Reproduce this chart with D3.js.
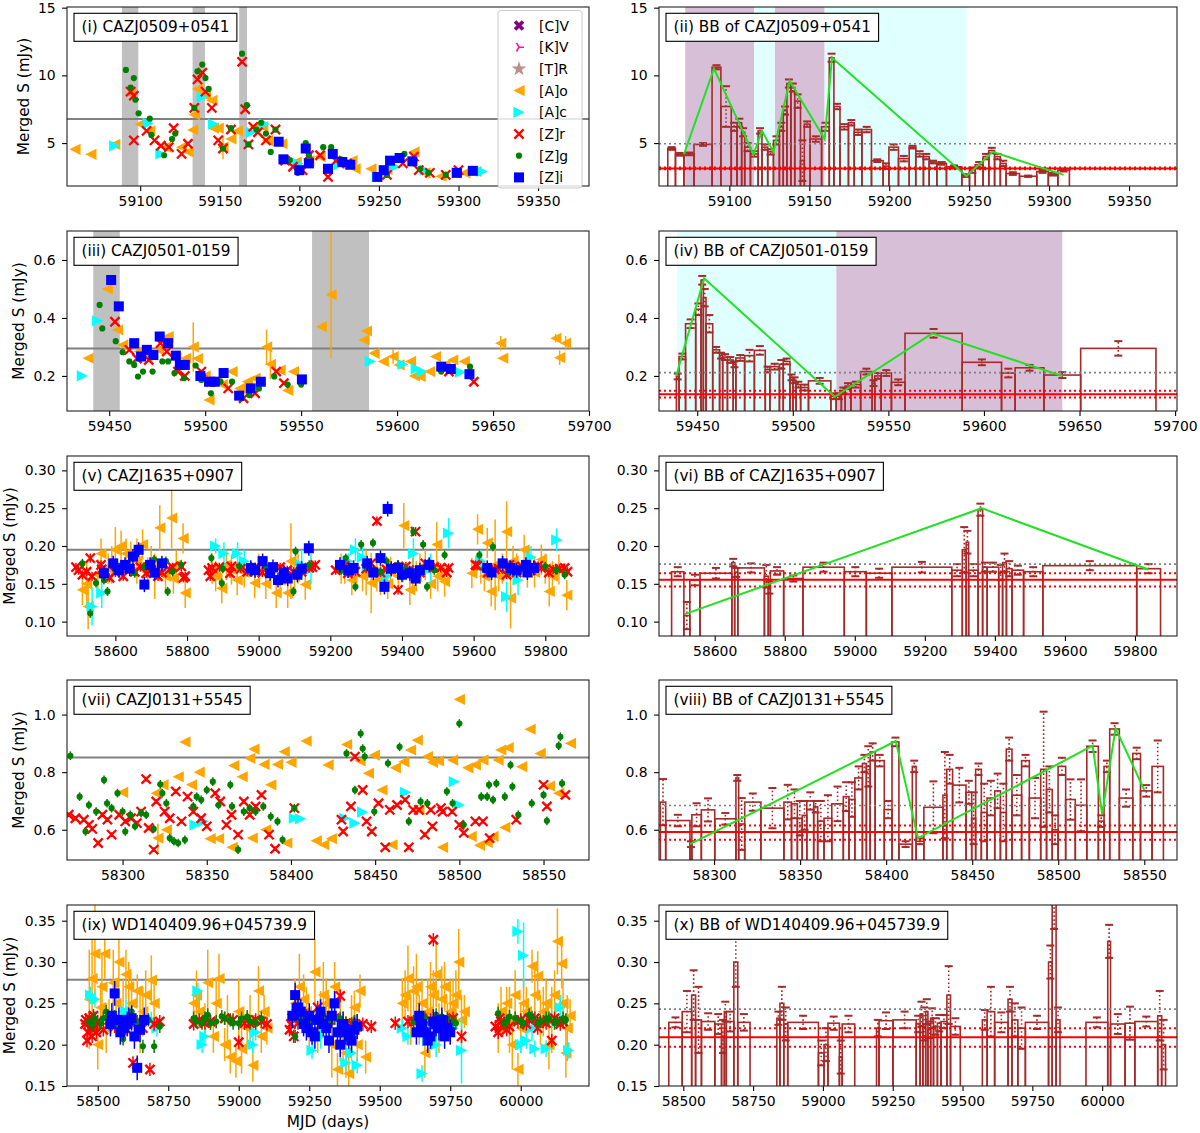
<!DOCTYPE html>
<html><head><meta charset="utf-8">
<script src="https://cdn.jsdelivr.net/npm/d3@7"></script>
<style>body{margin:0;background:#fff}</style>
</head><body><svg id="c" width="1200" height="1133" xmlns="http://www.w3.org/2000/svg"></svg>
<script>
// ---------------- axis limits & ticks ----------------
const p1_xDom=[59054,59382], p1_yDom=[1.83,15.05], p1_xTicks=[59100,59150,59200,59250,59300,59350], p1_yTicks=[5,10,15];
const p2_xDom=[59056,59380], p2_yDom=[1.83,15.05];
const p3_xDom=[59428,59700], p3_yDom=[0.079,0.70], p3_xTicks=[59450,59500,59550,59600,59650,59700], p3_yTicks=[0.2,0.4,0.6];
const p4_xDom=[59430,59701], p4_yDom=[0.079,0.70];
const p5_xDom=[58465,59922], p5_yDom=[0.081,0.319], p5_xTicks=[58600,58800,59000,59200,59400,59600,59800], p5_yTicks=[0.10,0.15,0.20,0.25,0.30];
const p6_xDom=[58441,59920], p6_yDom=[0.081,0.319];
const p7_xDom=[58267,58577], p7_yDom=[0.495,1.12], p7_xTicks=[58300,58350,58400,58450,58500,58550], p7_yTicks=[0.6,0.8,1.0];
const p8_xDom=[58268,58569], p8_yDom=[0.495,1.12];
const p9_xDom=[58391,60242], p9_yDom=[0.15,0.369], p9_xTicks=[58500,58750,59000,59250,59500,59750,60000], p9_yTicks=[0.15,0.20,0.25,0.30,0.35];
const p10_xDom=[58413,60268], p10_yDom=[0.15,0.369];

const legendLabels=["[C]V","[K]V","[T]R","[A]o","[A]c","[Z]r","[Z]g","[Z]i"];

// ---------------- (i) CAZJ0509+0541 ----------------
const p1_mean=6.77;
const p1_spans=[[59088.5,59098.8],[59132.9,59140.7],[59162.2,59167.1]];
const p1_KV=[[59145,6.4]];
const p1_Ao=[[59059,4.54],[59069,4.17],[59084,4.9],[59094,8.64],[59100,6.4],[59106,5.9],[59116,4.7],[59126,4.7],[59130,4.35],[59133,5.97],[59134,7.1],[59136,9.0],[59141,8.5],[59145,8.15],[59146,6.1],[59149,6.1],[59152,4.7,0.9],[59157,5.3],[59161,5.9],[59172,6.2],[59177,6.2],[59180,5.2],[59189,4.95],[59198,3.6],[59206,3.7],[59213,4.0],[59225,3.5],[59233,3.7],[59235,3.1],[59245,3.1],[59255,3.05],[59272,4.35],[59279,2.8],[59289,2.55],[59304,2.8],[59311,2.9]];
const p1_Ac=[[59084,4.8],[59105,6.45],[59113,4.2],[59139,8.4],[59146,6.4],[59170,5.8],[59178,6.4],[59199,3.5],[59225,3.4],[59249,2.5],[59260,3.25],[59279,3.0],[59299,2.8],[59315,2.9]];
const p1_Zr=[[59094,8.8],[59096,8.5],[59096,5.2],[59104,5.9],[59109,5.2],[59113,4.8],[59118,4.7],[59121,6.1],[59126,4.2],[59130,4.95],[59134,7.6],[59136,9.7],[59139,10.2],[59141,8.8],[59145,7.6],[59149,5.2],[59152,4.6],[59157,6.0],[59164,11.0],[59166,7.5],[59168,4.9],[59171,6.2],[59174,5.8],[59179,5.2],[59185,6.0],[59191,3.7],[59196,3.25],[59202,3.0],[59206,4.1],[59213,4.1],[59218,2.5],[59223,3.7],[59230,3.5],[59255,2.65],[59265,3.5],[59272,4.0],[59275,3.0],[59282,2.8],[59292,2.65],[59300,3.0]];
const p1_Zg=[[59091,10.4],[59094,9.1],[59096,9.8],[59097,8.2],[59099,7.2],[59106,6.8],[59107,5.6],[59115,4.1],[59120,5.3],[59122,5.7],[59134,7.6],[59136,10.3],[59139,10.8],[59141,9.8],[59143,9.0],[59152,4.6],[59157,6.1],[59164,11.6],[59167,7.8],[59168,4.9],[59173,6.0],[59176,6.5],[59179,5.7],[59182,4.35],[59185,6.0],[59194,3.75],[59199,2.8],[59204,5.0],[59206,4.1],[59215,4.7],[59220,4.7],[59226,3.8],[59255,2.65],[59266,4.2],[59276,3.1],[59281,2.8],[59292,2.65],[59298,2.8]];
const p1_Zi=[[59187,5.1],[59190,3.8],[59200,3.0],[59204,4.6],[59206,3.5],[59218,3.1],[59221,4.2],[59227,3.6],[59232,3.4],[59249,2.5],[59253,3.0],[59257,3.7],[59263,3.9],[59271,3.65],[59299,2.8],[59309,2.95]];

// ---------------- (ii) BB of CAZJ0509+0541 ----------------
const p2_levels={gray:4.95, red:3.13, redLo:3.07, redHi:3.19};
const p2_spansPurple=[[59072.4,59115.6],[59128.4,59159.6]];
const p2_spansCyan=[[59115.6,59128.4],[59159.6,59248.3]];
const p2_blocks=[[59061.5,59066.3,4.6,0.1],[59066.3,59071.6,4.17,0.1],[59071.6,59077.9,4.2,0.1],[59077.9,59089.2,4.9,0.1],[59089.2,59094.7,10.6,0.15],[59094.7,59101.2,7.7,1.5],[59101.2,59104.8,6.2,0.3],[59104.8,59107.7,6.5,0.3],[59107.7,59109.6,5.8,0.3],[59109.6,59113.2,4.7,0.3],[59113.2,59118,4.2,0.2],[59118,59120.4,5.9,0.2],[59120.4,59124,4.7,0.2],[59124,59127.6,4.35,0.2],[59127.6,59131.3,5.2,0.3],[59131.3,59133.7,6.2,0.3],[59133.7,59136,7.4,0.3],[59136,59138.5,9.4,0.3],[59138.5,59140.9,9.1,0.3],[59140.9,59144.5,8.1,0.5],[59144.5,59146.9,3.7,1.5],[59146.9,59150.5,6.4,0.2],[59150.5,59157.7,5.3,0.2],[59157.7,59162.5,6.2,0.3],[59162.5,59165.4,11.3,0.3],[59165.4,59169.2,7.7,0.2],[59169.2,59174.5,6.2,0.2],[59174.5,59178.1,6.5,0.2],[59178.1,59182.9,5.8,0.2],[59182.9,59188.9,6.0,0.2],[59188.9,59196.2,3.7,0.1],[59196.2,59199.8,3.3,0.2],[59199.8,59205.8,4.7,0.2],[59205.8,59212.5,3.85,0.2],[59212.5,59216.6,4.7,0.1],[59216.6,59221.4,4.2,0.2],[59221.4,59225,4.0,0.2],[59225,59229.8,3.6,0.1],[59229.8,59235.8,3.5,0.1],[59235.8,59245.4,3.25,0.1],[59245.4,59250.2,2.6,0.1],[59250.2,59253.8,3.0,0.2],[59253.8,59258.7,3.4,0.2],[59258.7,59262.3,4.0,0.2],[59262.3,59265.9,4.45,0.2],[59265.9,59269.5,4.0,0.2],[59269.5,59273.1,3.5,0.2],[59273.1,59281.5,2.75,0.1],[59281.5,59292.3,2.55,0.05],[59292.3,59299.5,2.9,0.1],[59299.5,59305.5,2.7,0.1],[59305.5,59312.7,3.0,0.1]];
const p2_green=[[59071.6,4.17],[59090.4,10.5],[59115.1,4.17],[59120.4,5.9],[59127.6,4.35],[59137.7,9.6],[59159.6,5.3],[59164.2,11.3],[59248.3,2.55],[59264.7,4.35],[59309.1,2.65]];

// ---------------- (iii) CAZJ0501-0159 ----------------
const p3_mean=0.295;
const p3_spans=[[59441.7,59455.5],[59555.7,59585.4]];
const p3_Ao=[[59439,0.261],[59449,0.50],[59454.4,0.359],[59457,0.307],[59465.6,0.284],[59469.6,0.267],[59475.7,0.29],[59478.7,0.33],[59480.7,0.336],[59484.7,0.261],[59489.8,0.261],[59493.8,0.3,0.085],[59495.9,0.26],[59500,0.2],[59502,0.117],[59506,0.18],[59509,0.17],[59514,0.215],[59518,0.157],[59522,0.18],[59526,0.192],[59532,0.3,0.06],[59534,0.24,0.05],[59539,0.22],[59543,0.15],[59546,0.215],[59560.5,0.37],[59565.6,0.48,0.22],[59582.7,0.324],[59584,0.355],[59588,0.278],[59592.8,0.25],[59597.9,0.267,0.025],[59601,0.238],[59607,0.25],[59609,0.2],[59612,0.198],[59617,0.215],[59620,0.267],[59625,0.238],[59629,0.255],[59635,0.25],[59654,0.313,0.025],[59655,0.261],[59682.7,0.33,0.015],[59684.7,0.263,0.025],[59687.8,0.313,0.025]];
const p3_Ac=[[59436,0.2],[59444,0.39],[59586,0.25],[59603,0.24],[59610,0.224],[59613,0.215],[59633,0.213]];
const p3_Zr=[[59453,0.387],[59460.5,0.29],[59464.5,0.26],[59470.6,0.255],[59476.7,0.313],[59480,0.284],[59485.8,0.215],[59489.4,0.2],[59498,0.215],[59503,0.18],[59512,0.157],[59520,0.123],[59526,0.14],[59537,0.215],[59541,0.175],[59627,0.215],[59640,0.18]];
const p3_Zg=[[59445,0.445],[59446.4,0.364],[59453.4,0.32],[59457,0.282],[59460.5,0.25],[59463,0.238],[59465,0.198],[59467.6,0.215],[59472.6,0.215],[59477.7,0.25],[59480.7,0.25],[59484,0.21],[59489,0.192],[59495,0.236],[59498,0.186],[59503,0.14],[59508,0.18],[59514,0.18],[59519,0.123],[59523,0.134],[59528,0.157],[59536,0.198],[59543,0.17],[59550,0.17],[59623,0.215],[59638,0.232]];
const p3_Zi=[[59451,0.531],[59455,0.44],[59463,0.313],[59466.6,0.267],[59469.6,0.29],[59473,0.272],[59476.3,0.336],[59480.7,0.313],[59484.7,0.27],[59486.8,0.238],[59489.4,0.238],[59497.5,0.2],[59502,0.18],[59505,0.18],[59509.6,0.21],[59517.7,0.132],[59523.7,0.157],[59529,0.18],[59550.4,0.188],[59623,0.232],[59628,0.224],[59637.7,0.206]];

// ---------------- (iv) BB of CAZJ0501-0159 ----------------
const p4_levels={gray:0.2115, red:0.137, redLo:0.126, redHi:0.149};
const p4_spansCyan=[[59439.5,59522.7]];
const p4_spansPurple=[[59522.7,59641]];
const p4_blocks=[[59439.1,59440.5,0.198,0.01],[59440.5,59443.9,0.267,0.01],[59443.9,59449.2,0.38,0.015],[59449.2,59452,0.43,0.02],[59452,59453.2,0.53,0.015],[59453.2,59454.6,0.47,0.03],[59454.6,59458.1,0.38,0.03],[59458.1,59461.7,0.29,0.01],[59461.7,59463.3,0.27,0.01],[59463.3,59465.8,0.265,0.01],[59465.8,59468.8,0.255,0.01],[59468.8,59470.2,0.24,0.01],[59470.2,59474.8,0.262,0.01],[59474.8,59479.9,0.27,0.02],[59479.9,59485.6,0.288,0.015],[59485.6,59488,0.222,0.01],[59488,59493,0.232,0.01],[59493,59495,0.24,0.015],[59495,59498.5,0.25,0.01],[59498.5,59500.1,0.195,0.01],[59500.1,59501.7,0.185,0.01],[59501.7,59504.1,0.17,0.01],[59504.1,59508.2,0.16,0.01],[59508.2,59519.9,0.183,0.01],[59519.9,59522.7,0.13,0.01],[59522.7,59525.4,0.13,0.01],[59525.4,59527.4,0.15,0.01],[59527.4,59530.4,0.165,0.01],[59530.4,59535.5,0.17,0.01],[59535.5,59541.5,0.215,0.01],[59541.5,59542.9,0.175,0.01],[59542.9,59546.2,0.2,0.01],[59546.2,59551.6,0.21,0.01],[59551.6,59558.7,0.178,0.01],[59558.7,59588.6,0.347,0.015],[59588.6,59609.2,0.247,0.01],[59609.2,59616.3,0.21,0.015],[59616.3,59631.4,0.228,0.01],[59631.4,59650.6,0.203,0.01],[59650.6,59690,0.295,0.025]];
const p4_green=[[59439,0.2],[59453.6,0.537],[59522,0.128],[59573,0.347],[59641,0.2]];

// ---------------- (v) CAZJ1635+0907 ----------------
const p5_mean=0.195;
const p5_Ao=[[58508,0.142,0.02],[58524,0.12,0.03],[58551,0.162,0.02],[58600,0.195,0.03],[58616,0.2,0.02],[58643,0.186,0.02],[58676,0.202,0.02],[58724,0.224,0.03],[58757,0.237,0.04],[58762,0.157,0.02],[58789,0.21,0.02],[58795,0.138,0.02],[58897,0.144,0.02],[58924,0.169,0.02],[58989,0.151,0.02],[59049,0.138,0.02],[59081,0.138,0.02],[59130,0.149,0.02],[59314,0.151,0.04],[59368,0.166,0.02],[59405,0.227,0.03],[59422,0.142,0.02],[59465,0.175,0.02],[59497,0.202,0.03],[59519,0.153,0.02],[59595,0.164,0.02],[59611,0.222,0.02],[59638,0.204,0.02],[59649,0.14,0.02],[59692,0.219,0.04],[59703,0.131,0.04],[59741,0.195,0.02],[59789,0.182,0.02],[59811,0.14,0.02],[59838,0.169,0.02],[59860,0.135,0.02],[58580,0.17,0.02],[58700,0.18,0.02],[58740,0.16,0.02],[58870,0.17,0.02],[58960,0.165,0.02],[59020,0.15,0.02],[59100,0.16,0.02],[59240,0.165,0.015],[59290,0.16,0.02],[59340,0.155,0.02],[59440,0.16,0.02],[59480,0.15,0.02],[59620,0.17,0.02],[59670,0.16,0.02],[59720,0.17,0.02],[59770,0.165,0.02],[58520,0.15,0.03],[58560,0.19,0.02],[58590,0.175,0.025],[58630,0.19,0.02],[58660,0.18,0.03],[58690,0.165,0.02],[58710,0.16,0.03],[58770,0.175,0.02],[58880,0.16,0.02],[58910,0.175,0.02],[58940,0.155,0.02],[59000,0.17,0.02],[59060,0.155,0.02],[59090,0.18,0.05],[59110,0.17,0.02],[59230,0.17,0.02],[59260,0.155,0.02],[59300,0.165,0.03],[59330,0.16,0.02],[59360,0.15,0.02],[59390,0.16,0.02],[59430,0.165,0.02],[59450,0.17,0.02],[59500,0.16,0.02],[59630,0.16,0.02],[59660,0.175,0.06],[59680,0.17,0.02],[59710,0.18,0.02],[59750,0.165,0.02],[59800,0.17,0.02],[59820,0.16,0.02]];
const p5_Ac=[[58535,0.12,0.025],[58562,0.138,0.02],[58903,0.19,0.015],[58941,0.19,0.015],[59146,0.169,0.02],[59270,0.195,0.015],[59357,0.16,0.02],[59432,0.19,0.02],[59530,0.217,0.02],[59692,0.133,0.02],[59724,0.155,0.02],[59832,0.208,0.015],[58880,0.2,0.01],[58960,0.18,0.015],[59120,0.175,0.02],[59250,0.18,0.01],[59290,0.185,0.02],[59480,0.17,0.02],[59620,0.18,0.015],[59760,0.185,0.015]];
const p5_Zr=[[58497,0.168],[58508,0.162],[58530,0.184],[58535,0.16],[58562,0.169],[58584,0.158],[58622,0.16],[58654,0.166],[58686,0.164],[58719,0.16],[58751,0.169],[58784,0.173],[58795,0.16],[58865,0.16],[58870,0.171],[58924,0.173],[58968,0.166],[59032,0.169],[59097,0.166],[59141,0.171],[59158,0.175],[59227,0.171],[59249,0.164],[59314,0.177],[59330,0.233],[59357,0.169],[59389,0.142],[59411,0.173],[59438,0.219],[59465,0.177],[59508,0.171],[59530,0.171],[59605,0.175],[59659,0.169],[59692,0.162],[59735,0.173],[59789,0.171],[59822,0.169],[59854,0.171],[58490,0.172],[58520,0.166],[58560,0.175],[58600,0.165],[58640,0.17],[58670,0.172],[58700,0.168],[58730,0.165],[58760,0.172],[58790,0.158],[58860,0.168],[58890,0.172],[58920,0.164],[58950,0.17],[58990,0.172],[59010,0.165],[59060,0.172],[59080,0.168],[59120,0.166],[59150,0.172],[59215,0.168],[59240,0.174],[59270,0.166],[59300,0.17],[59340,0.165],[59370,0.172],[59420,0.168],[59450,0.165],[59490,0.172],[59525,0.165],[59610,0.174],[59640,0.165],[59670,0.17],[59700,0.175],[59720,0.165],[59760,0.168],[59780,0.174],[59810,0.165],[59840,0.17],[59862,0.166]];
const p5_Zg=[[58508,0.177],[58530,0.111],[58546,0.151],[58568,0.155],[58578,0.14],[58611,0.171],[58654,0.164],[58708,0.182],[58741,0.18],[58746,0.14],[58784,0.175],[58868,0.184],[58897,0.151],[58946,0.173],[59043,0.169],[59097,0.14],[59103,0.193],[59141,0.175],[59243,0.184],[59270,0.146],[59286,0.202],[59319,0.204],[59357,0.18],[59389,0.175],[59432,0.219],[59459,0.202],[59470,0.146],[59519,0.188],[59616,0.188],[59654,0.199],[59735,0.171],[59800,0.173],[59854,0.162],[58600,0.168],[58680,0.172],[58760,0.166],[58900,0.17],[58980,0.165],[59020,0.172],[59070,0.166],[59120,0.17],[59230,0.168],[59300,0.172],[59340,0.166],[59410,0.17],[59490,0.168],[59630,0.17],[59700,0.166],[59770,0.172],[59830,0.168]];
const p5_Zi=[[58568,0.164],[58594,0.177],[58627,0.175],[58649,0.186],[58665,0.195],[58681,0.149],[58697,0.175],[58730,0.177],[58978,0.171],[59011,0.18],[59032,0.164],[59054,0.155],[59081,0.157],[59108,0.162],[59140,0.197],[59227,0.175],[59265,0.171],[59303,0.177],[59340,0.184],[59351,0.146],[59360,0.249],[59389,0.171],[59422,0.164],[59438,0.157],[59476,0.175],[59638,0.171],[59681,0.177],[59703,0.171],[59746,0.175],[59768,0.171],[58610,0.168],[58640,0.17],[58710,0.165],[58990,0.168],[59040,0.172],[59070,0.165],[59120,0.17],[59250,0.168],[59320,0.165],[59370,0.17],[59400,0.162],[59450,0.168],[59650,0.165],[59720,0.168],[59750,0.165]];

// ---------------- (vi) BB of CAZJ1635+0907 ----------------
const p6_levels={gray:0.176, red:0.1553, redLo:0.1465, redHi:0.164};
const p6_blocks=[[58477,58512,0.166,0.006],[58512,58529,0.108,0.018],[58529,58558,0.155,0.007],[58558,58649,0.164,0.007],[58649,58657,0.178,0.005],[58657,58666,0.165,0.006],[58666,58742,0.171,0.006],[58742,58753,0.16,0.015],[58753,58759,0.145,0.008],[58759,58797,0.167,0.005],[58797,58852,0.157,0.004],[58852,58970,0.172,0.006],[58970,59033,0.166,0.006],[59033,59106,0.164,0.006],[59106,59277,0.172,0.007],[59277,59307,0.168,0.008],[59307,59318,0.195,0.03],[59318,59325,0.205,0.015],[59325,59352,0.168,0.008],[59352,59365,0.248,0.008],[59365,59378,0.172,0.006],[59378,59411,0.172,0.006],[59411,59422,0.165,0.01],[59422,59433,0.178,0.012],[59433,59449,0.17,0.01],[59449,59482,0.168,0.006],[59482,59537,0.166,0.006],[59537,59805,0.174,0.006],[59805,59873,0.17,0.006]];
const p6_green=[[58515,0.110],[59362,0.250],[59838,0.169]];

// ---------------- (vii) CAZJ0131+5545 ----------------
const p7_mean=0.851;
const p7_Ao=[[58300,0.73],[58320,0.727],[58321,0.571,0.05],[58326,0.6],[58324,0.756],[58333,0.784],[58337,0.905],[58341,0.756],[58345.5,0.8],[58352,0.569],[58357,0.569],[58365,0.539],[58366,0.823],[58371,0.784],[58375.5,0.848],[58378,0.88],[58377,0.571],[58384,0.827],[58385,0.6],[58388,0.756],[58392,0.827],[58396,0.871],[58397.5,0.554],[58400,0.834],[58409,0.908],[58415,0.562],[58419.5,0.548],[58422,0.825],[58424,0.569],[58433,0.896],[58441,0.839],[58446,0.796],[58449.5,0.859],[58454,0.738],[58460,0.548],[58462,0.815],[58467,0.836],[58471,0.877],[58475,0.911],[58476,0.669],[58481,0.854],[58484,0.834],[58487.6,0.839],[58490,0.539],[58496,0.842],[58500,1.053],[58505,0.815],[58507,0.577],[58509.5,0.825],[58512,0.546],[58514,0.842],[58516.5,0.556],[58520,0.577],[58523,0.842],[58524.6,0.877],[58527,0.608],[58529,0.885],[58537,0.819],[58542,0.949],[58548,0.865],[58553.5,0.752],[58559,0.727],[58566,0.9]];
const p7_Ac=[[58343,0.617],[58348,0.629],[58402,0.64],[58405.6,0.638],[58432,0.64],[58438,0.623],[58442.6,0.661],[58468,0.73],[58497,0.767],[58500,0.686]];
const p7_Zr=[[58268,0.652],[58272,0.64],[58277,0.635],[58280,0.617],[58282,0.603],[58285.5,0.554],[58288,0.652],[58291,0.635],[58293.5,0.583],[58298,0.652],[58301.6,0.629],[58305,0.64],[58308.5,0.623],[58311,0.663],[58314,0.776],[58315.5,0.606],[58318.5,0.531],[58320,0.698],[58325,0.663],[58328,0.64],[58331.6,0.733],[58335,0.629],[58338.6,0.715],[58342,0.663],[58346.7,0.64],[58350,0.612],[58355,0.727],[58358,0.698],[58361.7,0.617],[58364.7,0.652],[58368.6,0.583],[58372,0.698],[58375.5,0.652],[58379,0.681],[58382.5,0.721],[58387,0.583],[58390.6,0.534],[58402,0.675],[58430,0.635],[58431,0.594],[58435.6,0.681],[58438,0.854],[58442.6,0.738],[58444.9,0.629],[58448,0.594],[58452,0.692],[58456,0.539],[58458.7,0.669],[58463,0.686],[58467.8,0.704],[58470,0.539],[58472.6,0.669],[58476,0.669],[58479.5,0.583],[58483,0.669],[58484,0.612],[58489,0.675],[58490,0.663],[58495.7,0.663],[58500,0.617],[58502.6,0.589],[58509.5,0.629],[58514,0.629],[58518,0.571],[58533.8,0.635],[58550,0.756],[58552,0.681],[58563,0.721]];
const p7_Zg=[[58269,0.857],[58274.5,0.715],[58278,0.594],[58280,0.686],[58284.3,0.663],[58289,0.773],[58290.8,0.692],[58293.5,0.675],[58297,0.727],[58300,0.663],[58301.6,0.594],[58304.6,0.652],[58307.4,0.612],[58311,0.658],[58314,0.652],[58318.5,0.603],[58322.4,0.758],[58323.6,0.727],[58326,0.692],[58328,0.571],[58330.5,0.56],[58333,0.554],[58337,0.565],[58342,0.681],[58344,0.715],[58346.7,0.704],[58350,0.738],[58353.6,0.767],[58357,0.686],[58364,0.756],[58365,0.681],[58368.6,0.531],[58372,0.663],[58375.5,0.675],[58379,0.663],[58383.6,0.681],[58388,0.646],[58392,0.629],[58395,0.565],[58402,0.675],[58433,0.865],[58438,0.738],[58441.4,0.934],[58442.6,0.882],[58443.8,0.854],[58449.5,0.663],[58457.6,0.831],[58464.5,0.888],[58470,0.629],[58477,0.698],[58481,0.692],[58492.6,0.733],[58496,0.692],[58500,0.969],[58502.6,0.617],[58513,0.715],[58516.5,0.715],[58517.6,0.756],[58520,0.704],[58522,0.761],[58527,0.715],[58530.4,0.825],[58531.5,0.75],[58535,0.652],[58543,0.692],[58550,0.721],[58552,0.631],[58559,0.892],[58560,0.923],[58561,0.761]];

// ---------------- (viii) BB of CAZJ0131+5545 ----------------
const p8_levels={gray:0.684, red:0.592, redLo:0.565, redHi:0.615};
const p8_blocks=[[58268.8,58271.9,0.696,0.08],[58271.9,58286,0.632,0.02],[58286,58287.1,0.55,0.01],[58287.1,58292.6,0.652,0.04],[58292.6,58300.4,0.669,0.04],[58300.4,58312.7,0.638,0.02],[58312.7,58314.3,0.78,0.01],[58314.3,58317.8,0.62,0.09],[58317.8,58327.2,0.696,0.03],[58327.2,58340.6,0.675,0.07],[58340.6,58345,0.696,0.06],[58345,58348.4,0.69,0.05],[58348.4,58351.2,0.64,0.06],[58351.2,58353.9,0.65,0.05],[58353.9,58357.9,0.7,0.03],[58357.9,58360.2,0.68,0.02],[58360.2,58363.9,0.63,0.07],[58363.9,58368.4,0.64,0.08],[58368.4,58375.1,0.69,0.06],[58375.1,58378.4,0.715,0.05],[58378.4,58381.8,0.705,0.06],[58381.8,58386.2,0.78,0.04],[58386.2,58388.5,0.83,0.03],[58388.5,58390.7,0.82,0.07],[58390.7,58393.6,0.87,0.03],[58393.6,58398.9,0.84,0.02],[58398.9,58403.4,0.67,0.03],[58403.4,58407.4,0.905,0.015],[58407.4,58415.2,0.55,0.01],[58415.2,58417.4,0.82,0.02],[58417.4,58421.9,0.56,0.01],[58421.9,58433,0.678,0.09],[58433,58435.2,0.72,0.15],[58435.2,58438.6,0.81,0.05],[58438.6,58446.4,0.755,0.06],[58446.4,58449.7,0.73,0.04],[58449.7,58452,0.64,0.09],[58452,58455.3,0.81,0.02],[58455.3,58458.6,0.66,0.1],[58458.6,58463.1,0.71,0.06],[58463.1,58466.4,0.735,0.06],[58466.4,58469.8,0.66,0.1],[58469.8,58473.1,0.88,0.04],[58473.1,58478.7,0.72,0.07],[58478.7,58483.2,0.84,0.02],[58483.2,58489.8,0.71,0.07],[58489.8,58493.2,0.81,0.2],[58493.2,58496.5,0.74,0.08],[58496.5,58499.9,0.6,0.05],[58499.9,58504.3,0.82,0.03],[58504.3,58509.9,0.705,0.07],[58509.9,58516.6,0.685,0.09],[58516.6,58523.3,0.89,0.02],[58523.3,58526.6,0.63,0.02],[58526.6,58529.9,0.82,0.02],[58529.9,58535.5,0.95,0.02],[58535.5,58543.3,0.71,0.03],[58543.3,58547.8,0.865,0.02],[58547.8,58554.5,0.735,0.02],[58554.5,58561.1,0.82,0.09]];
const p8_green=[[58286,0.55],[58405.6,0.908],[58418.5,0.571],[58520,0.892],[58525.5,0.654],[58533.3,0.952],[58550,0.738]];

// ---------------- (ix) WD140409.96+045739.9 ----------------
const p9_mean=0.2785;
const p9_Ao=[[58470,0.255,0.06],[58490,0.31,0.06],[58500,0.2,0.03],[58510,0.245,0.03],[58525,0.31,0.03],[58540,0.235,0.02],[58555,0.275,0.04],[58575,0.3,0.03],[58600,0.285,0.03],[58620,0.25,0.03],[58640,0.265,0.02],[58660,0.24,0.03],[58690,0.278,0.03],[58700,0.25,0.03],[58840,0.25,0.02],[58860,0.24,0.02],[58890,0.275,0.04],[58910,0.21,0.02],[58930,0.28,0.03],[58950,0.2,0.02],[58970,0.185,0.02],[58990,0.18,0.02],[59010,0.195,0.03],[59030,0.22,0.02],[59050,0.175,0.02],[59070,0.265,0.03],[59090,0.24,0.02],[59100,0.22,0.02],[59200,0.25,0.03],[59230,0.255,0.03],[59250,0.215,0.02],[59270,0.288,0.04],[59290,0.235,0.03],[59310,0.25,0.03],[59330,0.2,0.04],[59350,0.17,0.02],[59370,0.21,0.03],[59390,0.165,0.02],[59410,0.245,0.02],[59430,0.265,0.02],[59450,0.185,0.02],[59580,0.25,0.03],[59600,0.28,0.04],[59620,0.265,0.03],[59640,0.23,0.03],[59660,0.19,0.03],[59680,0.27,0.03],[59700,0.285,0.04],[59720,0.255,0.04],[59740,0.23,0.02],[59760,0.25,0.03],[59780,0.3,0.04],[59800,0.24,0.02],[59920,0.22,0.03],[59950,0.25,0.02],[59970,0.2,0.03],[59990,0.17,0.02],[60010,0.25,0.03],[60040,0.295,0.02],[60060,0.283,0.03],[60080,0.24,0.03],[60100,0.2,0.03],[60130,0.325,0.04],[60145,0.298,0.03],[60160,0.19,0.03],[60175,0.235,0.02],[58480,0.28,0.05],[58515,0.27,0.04],[58530,0.22,0.03],[58565,0.25,0.03],[58590,0.24,0.04],[58610,0.27,0.03],[58650,0.23,0.04],[58670,0.26,0.03],[58850,0.26,0.03],[58880,0.23,0.02],[58920,0.25,0.03],[58960,0.23,0.03],[59000,0.24,0.04],[59040,0.23,0.03],[59080,0.21,0.02],[59215,0.27,0.04],[59240,0.24,0.03],[59280,0.22,0.03],[59300,0.26,0.04],[59320,0.23,0.03],[59340,0.27,0.03],[59360,0.22,0.04],[59380,0.19,0.03],[59400,0.23,0.03],[59420,0.2,0.02],[59590,0.26,0.03],[59610,0.23,0.03],[59630,0.27,0.04],[59650,0.25,0.03],[59670,0.24,0.04],[59690,0.26,0.03],[59710,0.22,0.03],[59730,0.27,0.03],[59750,0.24,0.04],[59770,0.26,0.03],[59790,0.23,0.03],[59930,0.24,0.03],[59960,0.23,0.04],[59980,0.26,0.03],[60000,0.22,0.03],[60020,0.24,0.03],[60050,0.26,0.04],[60070,0.23,0.03],[60090,0.25,0.03],[60110,0.23,0.04],[60120,0.26,0.03],[60150,0.25,0.03],[60165,0.22,0.04]];
const p9_Ac=[[58475,0.26,0.01],[58690,0.23,0.01],[58710,0.22,0.01],[58855,0.265,0.01],[58870,0.2,0.01],[59060,0.215,0.01],[59260,0.193,0.01],[59380,0.178,0.01],[59420,0.175,0.01],[59580,0.22,0.01],[59650,0.165,0.01],[59670,0.205,0.01],[59790,0.193,0.04],[59990,0.337,0.015],[60010,0.308,0.04],[60020,0.205,0.01],[60050,0.195,0.01],[60090,0.195,0.01],[60170,0.193,0.01],[58490,0.255,0.01],[58600,0.24,0.015],[58880,0.21,0.01],[59050,0.2,0.01],[59290,0.21,0.015],[59400,0.19,0.01],[59600,0.21,0.01],[59700,0.2,0.015],[59760,0.22,0.01],[60000,0.2,0.01],[60040,0.22,0.015],[60110,0.23,0.01],[60140,0.245,0.015]];
const p9_Zr=[[58455,0.225],[58465,0.215],[58470,0.232],[58480,0.21],[58490,0.222],[58500,0.228],[58520,0.218],[58540,0.23],[58560,0.222],[58580,0.225],[58600,0.219],[58625,0.178],[58640,0.228],[58660,0.22],[58685,0.17],[58700,0.225],[58840,0.225],[58860,0.23],[58900,0.228],[58950,0.232],[59000,0.203],[59020,0.226],[59060,0.23],[59100,0.225],[59180,0.218],[59190,0.232],[59210,0.226],[59240,0.235],[59280,0.245],[59300,0.228],[59340,0.232],[59360,0.259],[59380,0.226],[59410,0.22],[59440,0.225],[59470,0.222],[59555,0.226],[59600,0.228],[59650,0.232],[59690,0.327],[59720,0.225],[59760,0.232],[59790,0.21],[59910,0.222],[59925,0.232],[59940,0.225],[59960,0.222],[59990,0.228],[60020,0.225],[60050,0.232],[60080,0.228],[60110,0.205],[60140,0.225],[58458,0.23],[58462,0.205],[58475,0.22],[58485,0.235],[58495,0.215],[59185,0.225],[59195,0.21],[59205,0.238],[59920,0.215],[59930,0.228],[59950,0.218],[60000,0.23],[60030,0.232],[60060,0.22],[60090,0.226],[60120,0.232],[60150,0.228],[58720,0.228],[58880,0.226],[58980,0.23],[59040,0.226],[59080,0.228],[59320,0.23],[59400,0.225],[59620,0.228],[59680,0.23],[59740,0.226]];
const p9_Zg=[[58470,0.228],[58490,0.232],[58510,0.226],[58530,0.24],[58550,0.228],[58570,0.225],[58590,0.207],[58610,0.232],[58640,0.228],[58660,0.198],[58680,0.23],[58700,0.198],[58720,0.222],[58840,0.232],[58870,0.226],[58890,0.236],[58920,0.228],[58950,0.232],[58980,0.226],[59010,0.232],[59040,0.228],[59080,0.232],[59200,0.21],[59230,0.232],[59260,0.228],[59300,0.235],[59340,0.232],[59380,0.226],[59410,0.228],[59620,0.228],[59660,0.232],[59700,0.236],[59740,0.232],[59770,0.226],[59920,0.238],[59950,0.228],[59980,0.232],[60010,0.226],[60040,0.233],[60070,0.228],[60100,0.232],[60130,0.228],[60160,0.23],[58480,0.224],[58520,0.232],[58540,0.226],[58560,0.234],[58600,0.228],[58620,0.24],[58650,0.226],[58850,0.228],[58880,0.232],[58900,0.226],[58940,0.234],[58970,0.23],[59000,0.226],[59030,0.234],[59060,0.226],[59210,0.232],[59240,0.226],[59280,0.234],[59320,0.228],[59360,0.232],[59640,0.234],[59680,0.226],[59720,0.234],[59760,0.228],[59940,0.226],[59960,0.234],[60000,0.228],[60030,0.236],[60060,0.226],[60090,0.232],[60120,0.226],[60150,0.232]];
const p9_Zi=[[58545,0.225],[58560,0.262],[58575,0.23],[58590,0.22],[58605,0.225],[58620,0.232],[58630,0.21],[58640,0.172],[58650,0.218],[58665,0.23],[59190,0.235],[59200,0.26],[59220,0.24],[59240,0.22],[59260,0.215],[59280,0.23],[59300,0.225],[59320,0.205],[59340,0.25],[59360,0.2],[59380,0.215],[59400,0.205],[59420,0.222],[59630,0.215],[59650,0.225],[59670,0.205],[59690,0.228],[59710,0.22],[59730,0.21],[59750,0.215],[58550,0.235],[58580,0.215],[58610,0.23],[59210,0.245],[59230,0.225],[59250,0.235],[59270,0.21],[59290,0.24],[59310,0.22],[59330,0.235],[59350,0.215],[59370,0.225],[59390,0.21],[59410,0.218],[59640,0.235],[59660,0.215],[59680,0.21],[59700,0.225],[59720,0.23],[59740,0.22]];

// ---------------- (x) BB of WD140409.96+045739.9 ----------------
const p10_levels={gray:0.243, red:0.209, redLo:0.1976, redHi:0.22};
const p10_blocks=[[58448,58496,0.227,0.006],[58496,58530,0.24,0.025],[58530,58544,0.26,0.03],[58544,58565,0.23,0.04],[58565,58613,0.228,0.01],[58613,58637,0.225,0.012],[58637,58647,0.21,0.02],[58647,58654,0.24,0.012],[58654,58681,0.228,0.012],[58681,58695,0.3,0.03],[58695,58739,0.227,0.01],[58835,58846,0.232,0.008],[58846,58860,0.25,0.02],[58860,58874,0.225,0.02],[58874,58984,0.227,0.008],[58984,59004,0.19,0.015],[59004,59018,0.2,0.02],[59018,59059,0.226,0.008],[59059,59069,0.185,0.02],[59069,59114,0.225,0.01],[59192,59201,0.22,0.01],[59201,59251,0.229,0.01],[59251,59334,0.23,0.01],[59334,59348,0.225,0.01],[59348,59358,0.237,0.015],[59358,59368,0.225,0.02],[59368,59376,0.24,0.015],[59376,59386,0.218,0.01],[59386,59396,0.232,0.012],[59396,59410,0.222,0.01],[59410,59423,0.226,0.01],[59423,59444,0.228,0.008],[59444,59457,0.26,0.035],[59457,59492,0.222,0.01],[59571,59588,0.23,0.012],[59588,59615,0.24,0.03],[59615,59663,0.227,0.012],[59663,59677,0.255,0.015],[59677,59698,0.23,0.02],[59698,59725,0.22,0.025],[59725,59808,0.227,0.008],[59808,59821,0.3,0.02],[59821,59835,0.37,0.03],[59835,59849,0.23,0.015],[59942,60020,0.227,0.006],[60020,60030,0.325,0.02],[60030,60082,0.225,0.012],[60082,60117,0.226,0.02],[60117,60199,0.228,0.006],[60199,60213,0.235,0.03],[60213,60227,0.2,0.03]];

// ---------------- drawing ----------------
const FONT='"DejaVu Sans", sans-serif';
const COL=[[67,589],[659,1177]];
const ROWS=[[7,186],[231,411],[456,636],[680,860],[905,1086]];
const C={CV:'#800080',KV:'#ff1493',TR:'#bc8f8f',Ao:'#ffa500',Ac:'#00ffff',Zr:'#ff0000',Zg:'#008000',Zi:'#0000ff',brown:'#a52a2a',gray:'#808080',lime:'#22e022',purple:'#d8bfd8',cyan:'#e0ffff',silver:'#c0c0c0'};
const svg=d3.select('#c');
svg.append('rect').attr('width',1200).attr('height',1133).attr('fill','#fff');
const defs=svg.append('defs');
let cid=0;

function makePanel(col,row,xDom,yDom){
  const [x0,x1]=COL[col],[y0,y1]=ROWS[row];
  const x=d3.scaleLinear().domain(xDom).range([x0,x1]);
  const y=d3.scaleLinear().domain(yDom).range([y1,y0]);
  const id='clp'+(cid++);
  defs.append('clipPath').attr('id',id).append('rect').attr('x',x0).attr('y',y0).attr('width',x1-x0).attr('height',y1-y0);
  const g=svg.append('g');
  const plot=g.append('g').attr('clip-path',`url(#${id})`);
  return {g,plot,x,y,x0,x1,y0,y1,col};
}

function finishPanel(P,xTicks,yTicks,yFmt,title){
  const gx=P.g.append('g').attr('transform',`translate(0,${P.y1})`)
    .call(d3.axisBottom(P.x).tickValues(xTicks).tickFormat(d3.format('d')).tickSize(4.9).tickPadding(5.5));
  const gy=P.g.append('g').attr('transform',`translate(${P.x0},0)`)
    .call(d3.axisLeft(P.y).tickValues(yTicks).tickFormat(d3.format(yFmt)).tickSize(4.9).tickPadding(6.5));
  [gx,gy].forEach(a=>{
    a.select('.domain').remove();
    a.selectAll('text').attr('font-size',13.9).attr('font-family',FONT).attr('fill','#000');
    a.selectAll('line').attr('stroke','#000').attr('stroke-width',1.1);
  });
  P.g.append('rect').attr('x',P.x0).attr('y',P.y0).attr('width',P.x1-P.x0).attr('height',P.y1-P.y0)
    .attr('fill','none').attr('stroke','#222').attr('stroke-width',1.1);
  const tg=P.g.append('g');
  const t=tg.append('text').attr('x',P.x0+14.5).attr('y',P.y0+25.3).attr('font-size',15.3).attr('font-family',FONT).attr('fill','#000').text(title);
  const w=t.node().getComputedTextLength();
  tg.insert('rect','text').attr('x',P.x0+7).attr('y',P.y0+6.3).attr('width',w+15).attr('height',28)
    .attr('fill','#fff').attr('stroke','#000').attr('stroke-width',1.1);
  if(P.col===0){
    let minX=1e9;
    gy.selectAll('text').each(function(){const b=this.getBBox(); minX=Math.min(minX,b.x+P.x0);});
    const cx=minX-14;
    svg.append('text').attr('transform',`translate(${cx},${(P.y0+P.y1)/2}) rotate(-90)`).attr('dy','0.3em')
      .attr('text-anchor','middle').attr('font-size',15.3).attr('font-family',FONT).attr('fill','#000').text('Merged S (mJy)');
  }
}

function drawMarker(g,type,cx,cy,color){
  const s=5.6;
  if(type==='left') g.append('path').attr('d',`M${cx-s},${cy}L${cx+s},${cy-s}L${cx+s},${cy+s}Z`).attr('fill',color);
  else if(type==='right') g.append('path').attr('d',`M${cx+s},${cy}L${cx-s},${cy-s}L${cx-s},${cy+s}Z`).attr('fill',color);
  else if(type==='x') g.append('path').attr('d',`M${cx-4.6},${cy-4.6}L${cx+4.6},${cy+4.6}M${cx-4.6},${cy+4.6}L${cx+4.6},${cy-4.6}`).attr('stroke',color).attr('stroke-width',2.3).attr('fill','none');
  else if(type==='dot') g.append('circle').attr('cx',cx).attr('cy',cy).attr('r',3.1).attr('fill',color);
  else if(type==='square') g.append('rect').attr('x',cx-5).attr('y',cy-5).attr('width',10).attr('height',10).attr('fill',color);
  else if(type==='X') g.append('path').attr('d',`M${cx-4},${cy-4}L${cx+4},${cy+4}M${cx-4},${cy+4}L${cx+4},${cy-4}`).attr('stroke',color).attr('stroke-width',3.6).attr('fill','none');
  else if(type==='tri') g.append('path').attr('d',`M${cx},${cy}L${cx+5},${cy}M${cx},${cy}L${cx-2.5},${cy-4.3}M${cx},${cy}L${cx-2.5},${cy+4.3}`).attr('stroke',color).attr('stroke-width',1.6).attr('fill','none');
  else if(type==='star') g.append('path').attr('d',d3.symbol(d3.symbolStar,70)()).attr('transform',`translate(${cx},${cy})`).attr('fill',color);
}

function drawSeries(P,data,type,color,defErr){
  const g=P.plot.append('g');
  data.forEach(d=>{
    const e=d.length>2?d[2]:defErr;
    if(e>0) g.append('line').attr('x1',P.x(d[0])).attr('x2',P.x(d[0])).attr('y1',P.y(d[1]-e)).attr('y2',P.y(d[1]+e)).attr('stroke',color).attr('stroke-width',1.5);
  });
  data.forEach(d=>drawMarker(g,type,P.x(d[0]),P.y(d[1]),color));
}

function scatterPanel(row,xDom,yDom,xTicks,yTicks,yFmt,title,spans,mean,ser,errs){
  const P=makePanel(0,row,xDom,yDom);
  spans.forEach(s=>P.plot.append('rect').attr('x',P.x(s[0])).attr('width',P.x(s[1])-P.x(s[0])).attr('y',P.y0).attr('height',P.y1-P.y0).attr('fill',C.silver));
  P.plot.append('line').attr('x1',P.x0).attr('x2',P.x1).attr('y1',P.y(mean)).attr('y2',P.y(mean)).attr('stroke',C.gray).attr('stroke-width',2);
  const types={KV:'tri',Ao:'left',Ac:'right',Zr:'x',Zg:'dot',Zi:'square'};
  ['KV','Ao','Ac','Zr','Zg','Zi'].forEach(k=>{ if(ser[k]) drawSeries(P,ser[k],types[k],C[k],errs[k]||0); });
  finishPanel(P,xTicks,yTicks,yFmt,title);
  return P;
}

function bbPanel(row,xDom,yDom,xTicks,yTicks,yFmt,title,purple,cyan,blocks,lv,green){
  const P=makePanel(1,row,xDom,yDom);
  purple.forEach(s=>P.plot.append('rect').attr('x',P.x(s[0])).attr('width',P.x(s[1])-P.x(s[0])).attr('y',P.y0).attr('height',P.y1-P.y0).attr('fill',C.purple));
  cyan.forEach(s=>P.plot.append('rect').attr('x',P.x(s[0])).attr('width',P.x(s[1])-P.x(s[0])).attr('y',P.y0).attr('height',P.y1-P.y0).attr('fill',C.cyan));
  const bg=P.plot.append('g');
  blocks.forEach(b=>{
    bg.append('rect').attr('x',P.x(b[0])).attr('width',Math.max(0.5,P.x(b[1])-P.x(b[0]))).attr('y',P.y(b[2])).attr('height',P.y1+10-P.y(b[2]))
      .attr('fill','none').attr('stroke',C.brown).attr('stroke-width',1.6);
  });
  blocks.forEach(b=>{
    const cx=P.x((b[0]+b[1])/2), lo=P.y(b[2]-b[3]), hi=P.y(b[2]+b[3]);
    bg.append('line').attr('x1',cx).attr('x2',cx).attr('y1',lo).attr('y2',hi).attr('stroke',C.brown).attr('stroke-width',1.6).attr('stroke-dasharray','1.6,2.4');
    [lo,hi].forEach(yy=>bg.append('line').attr('x1',cx-4).attr('x2',cx+4).attr('y1',yy).attr('y2',yy).attr('stroke',C.brown).attr('stroke-width',2));
  });
  const hl=(v,col,w,dash)=>{const l=P.plot.append('line').attr('x1',P.x0).attr('x2',P.x1).attr('y1',P.y(v)).attr('y2',P.y(v)).attr('stroke',col).attr('stroke-width',w); if(dash) l.attr('stroke-dasharray',dash);};
  hl(lv.gray,C.gray,1.6,'2,3');
  hl(lv.redLo,'#ff0000',2,'2,3');
  hl(lv.redHi,'#ff0000',2,'2,3');
  hl(lv.red,'#ff0000',2,null);
  if(green) P.plot.append('path').attr('d',d3.line().x(d=>P.x(d[0])).y(d=>P.y(d[1]))(green)).attr('fill','none').attr('stroke',C.lime).attr('stroke-width',2);
  finishPanel(P,xTicks,yTicks,yFmt,title);
  return P;
}

// (i)
scatterPanel(0,p1_xDom,p1_yDom,p1_xTicks,p1_yTicks,'d','(i) CAZJ0509+0541',p1_spans,p1_mean,
  {KV:p1_KV,Ao:p1_Ao,Ac:p1_Ac,Zr:p1_Zr,Zg:p1_Zg,Zi:p1_Zi},{Ao:0.1,Ac:0.1,Zr:0.08,Zg:0.08,Zi:0.08});
// legend
(function(){
  const lg=svg.append('g');
  lg.append('rect').attr('x',498).attr('y',10.5).attr('width',84).attr('height',177.5).attr('rx',3).attr('fill','#fff').attr('fill-opacity',0.8).attr('stroke','#cccccc').attr('stroke-width',1);
  const types=['X','tri','star','left','right','x','dot','square'];
  const cols=[C.CV,C.KV,C.TR,C.Ao,C.Ac,C.Zr,C.Zg,C.Zi];
  legendLabels.forEach((lab,i)=>{
    const yy=25.5+i*21.7;
    drawMarker(lg,types[i],519,yy,cols[i]);
    lg.append('text').attr('x',539).attr('y',yy).attr('dy','0.36em').attr('font-size',13.9).attr('font-family',FONT).attr('fill','#000').text(lab);
  });
})();
// (ii)
bbPanel(0,p2_xDom,p2_yDom,p1_xTicks,p1_yTicks,'d','(ii) BB of CAZJ0509+0541',p2_spansPurple,p2_spansCyan,p2_blocks,p2_levels,p2_green);
// (iii)
scatterPanel(1,p3_xDom,p3_yDom,p3_xTicks,p3_yTicks,'.1f','(iii) CAZJ0501-0159',p3_spans,p3_mean,
  {Ao:p3_Ao,Ac:p3_Ac,Zr:p3_Zr,Zg:p3_Zg,Zi:p3_Zi},{Ao:0.006,Zr:0.006,Zg:0.005,Zi:0.006});
// (iv)
bbPanel(1,p4_xDom,p4_yDom,p3_xTicks,p3_yTicks,'.1f','(iv) BB of CAZJ0501-0159',p4_spansPurple,p4_spansCyan,p4_blocks,p4_levels,p4_green);
// (v)
scatterPanel(2,p5_xDom,p5_yDom,p5_xTicks,p5_yTicks,'.2f','(v) CAZJ1635+0907',[],p5_mean,
  {Ao:p5_Ao,Ac:p5_Ac,Zr:p5_Zr,Zg:p5_Zg,Zi:p5_Zi},{Zr:0.006,Zg:0.006,Zi:0.01});
// (vi)
bbPanel(2,p6_xDom,p6_yDom,p5_xTicks,p5_yTicks,'.2f','(vi) BB of CAZJ1635+0907',[],[],p6_blocks,p6_levels,p6_green);
// (vii)
scatterPanel(3,p7_xDom,p7_yDom,p7_xTicks,p7_yTicks,'.1f','(vii) CAZJ0131+5545',[],p7_mean,
  {Ao:p7_Ao,Ac:p7_Ac,Zr:p7_Zr,Zg:p7_Zg},{Ao:0.008,Ac:0.008,Zr:0.008,Zg:0.015});
// (viii)
bbPanel(3,p8_xDom,p8_yDom,p7_xTicks,p7_yTicks,'.1f','(viii) BB of CAZJ0131+5545',[],[],p8_blocks,p8_levels,p8_green);
// (ix)
scatterPanel(4,p9_xDom,p9_yDom,p9_xTicks,p9_yTicks,'.2f','(ix) WD140409.96+045739.9',[],p9_mean,
  {Ao:p9_Ao,Ac:p9_Ac,Zr:p9_Zr,Zg:p9_Zg,Zi:p9_Zi},{Zr:0.008,Zg:0.008,Zi:0.015});
// (x)
bbPanel(4,p10_xDom,p10_yDom,p9_xTicks,p9_yTicks,'.2f','(x) BB of WD140409.96+045739.9',[],[],p10_blocks,p10_levels,null);

svg.append('text').attr('x',(COL[0][0]+COL[0][1])/2).attr('y',1127).attr('text-anchor','middle').attr('font-size',15.3).attr('font-family',FONT).attr('fill','#000').text('MJD (days)');
</script></body></html>
